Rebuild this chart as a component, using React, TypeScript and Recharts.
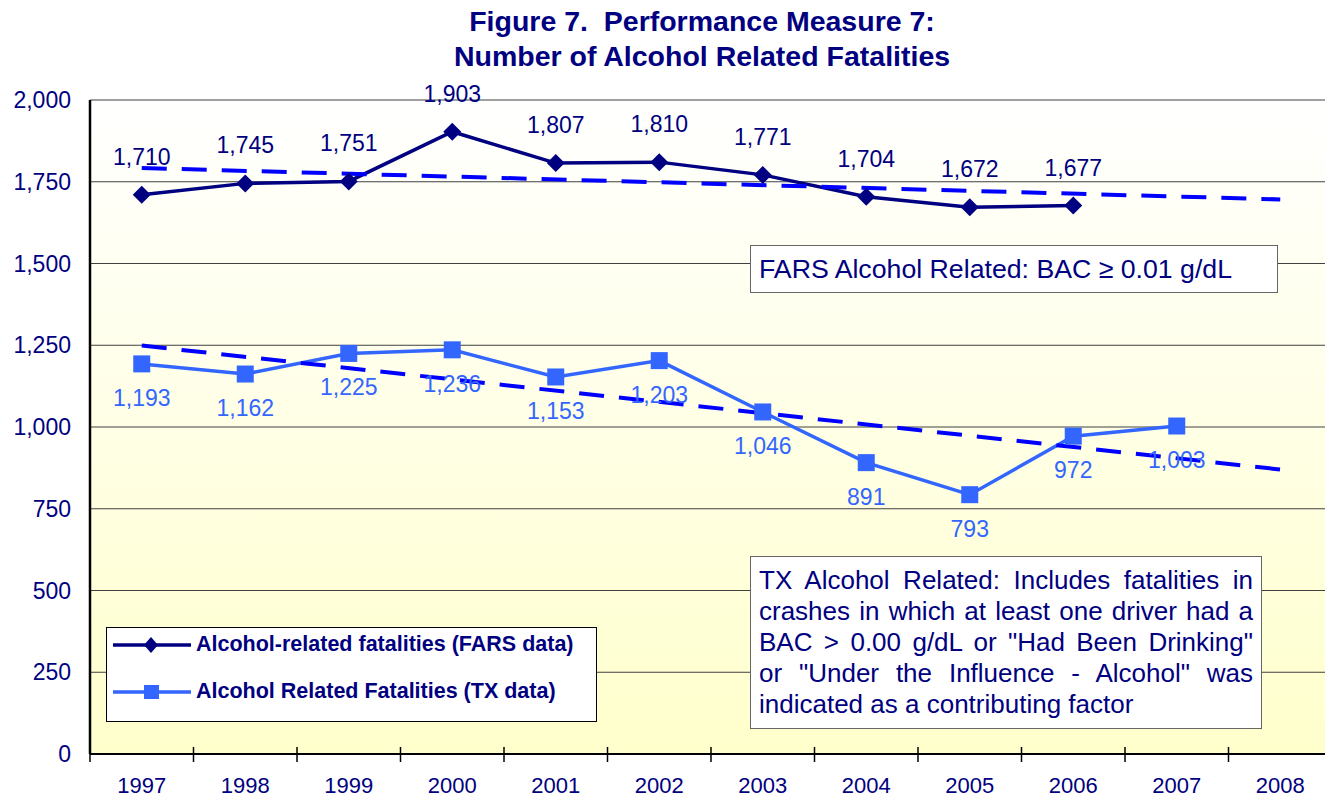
import React from "react";
import {
  ComposedChart,
  Line,
  XAxis,
  YAxis,
  CartesianGrid,
  Legend,
  LabelList,
} from "recharts";

const years = ["1997", "1998", "1999", "2000", "2001", "2002", "2003", "2004", "2005", "2006", "2007", "2008"];
const farsValues = [1710, 1745, 1751, 1903, 1807, 1810, 1771, 1704, 1672, 1677, null, null];
const txValues = [1193, 1162, 1225, 1236, 1153, 1203, 1046, 891, 793, 972, 1003, null];
// trend lines: only the end points
const farsTrend = [1792, null, null, null, null, null, null, null, null, null, null, 1696];
const txTrend = [1249, null, null, null, null, null, null, null, null, null, null, 870];
const yTicks = [0, 250, 500, 750, 1000, 1250, 1500, 1750, 2000];

const NAVY = "#000080";
const TX_BLUE = "#3366FF";
const TREND = "#0000FF";
const FONT = "Arial, 'Liberation Sans', sans-serif";

const data = years.map((year, i) => ({
  year,
  fars: farsValues[i],
  tx: txValues[i],
  farsTrend: farsTrend[i],
  txTrend: txTrend[i],
}));

const fmt = (v: number) => v.toLocaleString("en-US");

const HALF_BAND = 51.75;

const XTick = (props: any) => {
  const { x, y, payload } = props;
  return (
    <g>
      <line x1={x - HALF_BAND} x2={x - HALF_BAND} y1={y - 7} y2={y + 8} stroke="#000" strokeWidth={1.5} />
      <text x={x} y={y + 39} textAnchor="middle" fill={NAVY} fontSize={22} fontFamily={FONT}>
        {payload.value}
      </text>
    </g>
  );
};

const Diamond = (props: any) => {
  const { cx, cy, index } = props;
  if (cx == null || cy == null || props.value == null) return <g key={`fd-${index}`} />;
  const r = 9;
  return (
    <polygon
      key={`fd-${index}`}
      points={`${cx},${cy - r} ${cx + r},${cy} ${cx},${cy + r} ${cx - r},${cy}`}
      fill={NAVY}
    />
  );
};

const Square = (props: any) => {
  const { cx, cy, index } = props;
  if (cx == null || cy == null || props.value == null) return <g key={`ts-${index}`} />;
  const s = 17;
  return <rect key={`ts-${index}`} x={cx - s / 2} y={cy - s / 2} width={s} height={s} fill={TX_BLUE} />;
};

const FarsLabel = (props: any) => {
  const { x, y, value } = props;
  if (value == null) return null;
  return (
    <text x={x} y={y - 30} textAnchor="middle" fill={NAVY} fontSize={23} fontFamily={FONT}>
      {fmt(value)}
    </text>
  );
};

const TxLabel = (props: any) => {
  const { x, y, value } = props;
  if (value == null) return null;
  return (
    <text x={x} y={y + 42} textAnchor="middle" fill={TX_BLUE} fontSize={23} fontFamily={FONT}>
      {fmt(value)}
    </text>
  );
};

const LegendBox = () => (
  <div
    style={{
      width: 489,
      height: 93,
      border: "1px solid #000",
      background: "#fff",
      fontFamily: FONT,
      fontWeight: "bold",
      fontSize: 21.5,
      color: NAVY,
      overflow: "hidden",
    }}
  >
    {[
      { label: "Alcohol-related fatalities (FARS data)", color: NAVY, shape: "diamond" },
      { label: "Alcohol Related Fatalities (TX data)", color: TX_BLUE, shape: "square" },
    ].map((item, i) => (
      <div key={i} style={{ display: "flex", alignItems: "center", height: 47, marginTop: i === 0 ? -7 : 0 }}>
        <svg width={88} height={20} style={{ marginLeft: 6, flex: "none" }}>
          <line x1={0} x2={78} y1={10} y2={10} stroke={item.color} strokeWidth={3.5} />
          {item.shape === "diamond" ? (
            <polygon points="38,2 45,10 38,18 31,10" fill={item.color} />
          ) : (
            <rect x={31} y={3} width={15} height={14} fill={item.color} />
          )}
        </svg>
        <span style={{ marginLeft: -5, whiteSpace: "nowrap" }}>{item.label}</span>
      </div>
    ))}
  </div>
);

const txNote = [
  "TX Alcohol Related: Includes fatalities in",
  "crashes in which at least one driver had a",
  'BAC > 0.00 g/dL or "Had Been Drinking"',
  'or "Under the Influence - Alcohol" was',
  "indicated as a contributing factor",
];

export default function App() {
  return (
    <div
      style={{
        position: "absolute",
        left: 0,
        top: 0,
        width: 1325,
        height: 800,
        overflow: "hidden",
        background: "#fff",
        fontFamily: FONT,
      }}
    >
      <div
        style={{
          position: "absolute",
          left: 392,
          top: 4,
          width: 620,
          textAlign: "center",
          fontWeight: "bold",
          fontSize: 28.5,
          lineHeight: "35px",
          color: NAVY,
          whiteSpace: "pre",
        }}
      >
        {"Figure 7.  Performance Measure 7:\nNumber of Alcohol Related Fatalities"}
      </div>

      <ComposedChart
        width={1332}
        height={800}
        data={data}
        margin={{ top: 100, right: 0, bottom: 0, left: 0 }}
      >
        <defs>
          <linearGradient id="plotBg" x1="0" y1="0" x2="0" y2="1">
            <stop offset="0%" stopColor="#FFFFFF" />
            <stop offset="100%" stopColor="#FFFFCC" />
          </linearGradient>
        </defs>
        <CartesianGrid vertical={false} stroke="#404040" strokeWidth={1} fill="url(#plotBg)" fillOpacity={1} />
        <XAxis
          dataKey="year"
          scale="band"
          height={46}
          interval={0}
          tickSize={0}
          tickMargin={0}
          tickLine={false}
          axisLine={{ stroke: "#000", strokeWidth: 2 }}
          tick={<XTick />}
        />
        <YAxis
          width={90}
          domain={[0, 2000]}
          ticks={yTicks}
          interval={0}
          tickSize={0}
          tickMargin={19}
          tickLine={false}
          axisLine={{ stroke: "#000", strokeWidth: 2.5 }}
          tickFormatter={fmt}
          tick={{ fill: NAVY, fontSize: 23, fontFamily: FONT }}
        />
        <Legend
          layout="vertical"
          align="center"
          verticalAlign="middle"
          wrapperStyle={{ left: 106, top: 627, width: 491, height: 95 }}
          content={() => <LegendBox />}
        />
        <Line
          dataKey="fars"
          stroke={NAVY}
          strokeWidth={3.5}
          dot={Diamond}
          activeDot={false}
          isAnimationActive={false}
        >
          <LabelList dataKey="fars" content={FarsLabel} />
        </Line>
        <Line
          dataKey="tx"
          stroke={TX_BLUE}
          strokeWidth={3.5}
          dot={Square}
          activeDot={false}
          isAnimationActive={false}
        >
          <LabelList dataKey="tx" content={TxLabel} />
        </Line>
        <Line
          dataKey="farsTrend"
          stroke={TREND}
          strokeWidth={4}
          strokeDasharray="25 15"
          connectNulls
          dot={false}
          activeDot={false}
          isAnimationActive={false}
        />
        <Line
          dataKey="txTrend"
          stroke={TREND}
          strokeWidth={4}
          strokeDasharray="25 15"
          connectNulls
          dot={false}
          activeDot={false}
          isAnimationActive={false}
        />
      </ComposedChart>

      <div
        style={{
          position: "absolute",
          left: 750,
          top: 245,
          width: 518,
          height: 46,
          border: "1px solid #666",
          background: "#fff",
          color: NAVY,
          fontSize: 26.7,
          lineHeight: "46px",
          paddingLeft: 8,
          boxSizing: "content-box",
          whiteSpace: "nowrap",
        }}
      >
        FARS Alcohol Related: BAC ≥ 0.01 g/dL
      </div>

      <div
        style={{
          position: "absolute",
          left: 750,
          top: 556,
          width: 494,
          padding: "8px 8px",
          border: "1px solid #666",
          background: "#fff",
          color: NAVY,
          fontSize: 26,
          lineHeight: "31px",
        }}
      >
        {txNote.map((line, i) => (
          <div
            key={i}
            style={{
              textAlign: "justify",
              textAlignLast: i < txNote.length - 1 ? "justify" : "left",
              whiteSpace: "nowrap",
            }}
          >
            {line}
          </div>
        ))}
      </div>
    </div>
  );
}
